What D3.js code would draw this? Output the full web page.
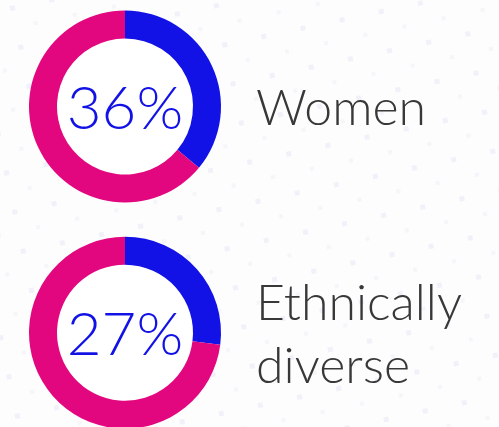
<!DOCTYPE html>
<html>
<head>
<meta charset="utf-8">
<script src="https://cdn.jsdelivr.net/npm/d3@7"></script>
<style>
  html, body { margin: 0; padding: 0; background: #fdfdfe; }
  svg { display: block; }
</style>
</head>
<body>
<div id="chart"></div>
<script>
const categories = ["Women", "Ethnically diverse"];
const labelLines = [["Women"], ["Ethnically", "diverse"]];
const values = [36, 27];
const percentLabels = ["36%", "27%"];

const W = 499, H = 427;
const svg = d3.select("#chart").append("svg")
  .attr("width", W).attr("height", H);

// faint dotted background texture
const defs = svg.append("defs");
const pat = defs.append("pattern")
  .attr("id", "dots").attr("patternUnits", "userSpaceOnUse")
  .attr("width", 40).attr("height", 40)
  .attr("patternTransform", "rotate(-12)");
pat.append("rect").attr("x", 8).attr("y", 8).attr("width", 5).attr("height", 5)
  .attr("fill", "#e6e6f5").attr("opacity", 0.55);
pat.append("rect").attr("x", 28).attr("y", 28).attr("width", 4).attr("height", 4)
  .attr("fill", "#ececf7").attr("opacity", 0.45);
svg.append("rect").attr("width", W).attr("height", H).attr("fill", "#fdfdfe");
svg.append("rect").attr("width", W).attr("height", H).attr("fill", "url(#dots)");

const centers = d3.scalePoint().domain(categories).range([106.5, 332.7]);
const outerR = 96, innerR = 68;
const pie = d3.pie().sort(null).value(d => d);
const arc = d3.arc().innerRadius(innerR).outerRadius(outerR);
const colors = ["#1212e6", "#e3077f"];

categories.forEach((cat, i) => {
  const g = svg.append("g").attr("transform", `translate(125,${centers(cat)})`);
  g.append("circle").attr("r", innerR).attr("fill", "#ffffff");
  g.selectAll("path").data(pie([values[i], 100 - values[i]])).join("path")
    .attr("d", arc).attr("fill", (d, j) => colors[j]);
  g.append("text").text(percentLabels[i])
    .attr("text-anchor", "middle").attr("y", 22)
    .attr("font-family", "Lato, 'Open Sans', sans-serif").attr("font-weight", 300)
    .attr("font-size", 60).attr("fill", "#1212e6");

  const lines = labelLines[i];
  const baseY = lines.length === 1 ? centers(cat) + 18.5 : centers(cat) - 12.5;
  const t = svg.append("text")
    .attr("font-family", "Lato, 'Open Sans', sans-serif").attr("font-weight", 300)
    .attr("font-size", 50).attr("fill", "#383838");
  lines.forEach((ln, k) => {
    t.append("tspan").attr("x", 256).attr("y", baseY + k * 63).text(ln);
  });
});
</script>
</body>
</html>
